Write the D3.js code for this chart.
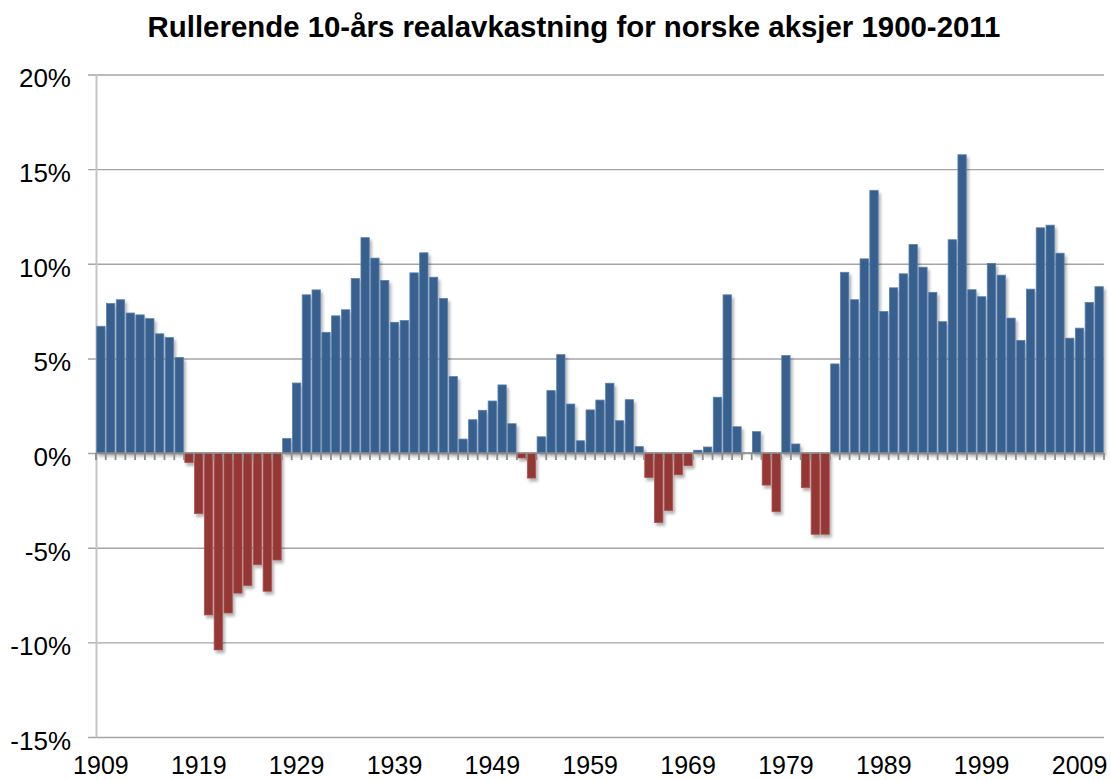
<!DOCTYPE html>
<html>
<head>
<meta charset="utf-8">
<script src="https://cdn.jsdelivr.net/npm/d3@7"></script>
<style>
  body { margin: 0; background: #fff; }
  svg { display: block; font-family: Arial, "Liberation Sans", sans-serif; }
</style>
</head>
<body>
<svg id="chart"></svg>
<script>
// data
////////////////////////////////////////////////////////////////
const title = 'Rullerende 10-års realavkastning for norske aksjer 1900-2011'
const years = d3.range(1909, 2012)
const returns = [
  6.7, 7.9, 8.1, 7.4, 7.3, 7.1, 6.3, 6.1, 5.05,
  -0.5, -3.2, -8.55, -10.4, -8.45, -7.4, -7.0, -5.9, -7.3, -5.65,
  0.77, 3.7, 8.36, 8.62, 6.38, 7.25, 7.57, 9.22, 11.38, 10.3, 9.12,
  6.91, 7.0, 9.52, 10.58, 9.29, 8.17, 4.04, 0.74, 1.76, 2.26,
  2.75, 3.6, 1.55, -0.26, -1.32, 0.86, 3.3, 5.2, 2.59, 0.65,
  2.28, 2.8, 3.69, 1.71, 2.82, 0.34, -1.29, -3.67, -3.03, -1.15,
  -0.67, 0.15, 0.32, 2.95, 8.36, 1.39, 0.0, 1.13, -1.69, -3.1,
  5.15, 0.48, -1.83, -4.29, -4.29, 4.71, 9.55, 8.1, 10.26, 13.88,
  7.48, 8.73, 9.47, 11.02, 9.82, 8.49, 6.94, 11.27, 15.76, 8.63,
  8.26, 10.02, 9.4, 7.13, 5.95, 8.66, 11.9, 12.04, 10.56, 6.07,
  6.6, 7.96, 8.79
]
const xTickYears = [1909, 1919, 1929, 1939, 1949, 1959, 1969, 1979, 1989, 1999, 2009]
const yTicks = [-15, -10, -5, 0, 5, 10, 15, 20]

const data = years.map((y, i) => ({ year: y, value: returns[i] }))

// chart
////////////////////////////////////////////////////////////////
let width = 1111
let height = 780
let plotLeft = 96
let plotRight = 1104
let plotTop = 74.5
let plotBottom = 737

let svg = d3.select('#chart')
  .attr('width', width)
  .attr('height', height)

let defs = svg.append('defs')
let shadow = defs.append('filter')
  .attr('id', 'shadow')
  .attr('x', '-50%').attr('y', '-10%')
  .attr('width', '200%').attr('height', '130%')
shadow.append('feDropShadow')
  .attr('dx', 2).attr('dy', 3)
  .attr('stdDeviation', 1.6)
  .attr('flood-color', '#000')
  .attr('flood-opacity', 0.3)

let xScale = d3.scaleBand()
  .domain(years)
  .range([plotLeft, plotRight])
  .paddingInner(0.15)
  .paddingOuter(0.075)

let yScale = d3.scaleLinear()
  .domain([-15, 20])
  .range([plotBottom, plotTop])

// gridlines
svg.append('g')
  .attr('class', 'grid')
  .attr('transform', `translate(${plotLeft - 8}, 0)`)
  .call(d3.axisRight(yScale).tickValues(yTicks).tickSize(plotRight - plotLeft + 8).tickFormat(''))
  .call(g => g.select('.domain').remove())
  .selectAll('line')
  .attr('stroke', '#a5a5a5')
  .attr('stroke-width', 1.4)

// y axis
svg.append('g')
  .attr('id', 'y-axis')
  .attr('transform', `translate(${plotLeft}, 0)`)
  .call(d3.axisLeft(yScale).tickValues(yTicks).tickSize(0).tickPadding(25)
    .tickFormat(d => d + '%'))
  .call(g => g.select('.domain')
    .attr('stroke', '#c4c4c4')
    .attr('stroke-width', 2))
  .selectAll('text')
  .attr('dy', '0.48em')
  .style('font-size', '26px')
  .style('fill', '#000')

// bars
svg.append('g')
  .attr('filter', 'url(#shadow)')
  .selectAll('rect')
  .data(data)
  .enter()
  .append('rect')
  .attr('x', d => xScale(d.year))
  .attr('width', xScale.bandwidth())
  .attr('y', d => yScale(Math.max(0, d.value)))
  .attr('height', d => Math.abs(yScale(d.value) - yScale(0)))
  .attr('fill', d => d.value >= 0 ? '#37608f' : '#953735')
  .attr('stroke', d => d.value >= 0 ? '#5c7fac' : '#a85553')
  .attr('stroke-width', 0.8)

// zero axis with category ticks
let zeroY = yScale(0)
let axisZero = svg.append('g').attr('id', 'zero-axis')
axisZero.selectAll('line.tick')
  .data(d3.range(years.length + 1))
  .enter()
  .append('line')
  .attr('class', 'tick')
  .attr('x1', i => plotLeft + i * xScale.step())
  .attr('x2', i => plotLeft + i * xScale.step())
  .attr('y1', zeroY)
  .attr('y2', zeroY + 7)
  .attr('stroke', '#8c8c8c')
  .attr('stroke-width', 1.8)
axisZero.append('line')
  .attr('x1', plotLeft)
  .attr('x2', plotRight)
  .attr('y1', zeroY)
  .attr('y2', zeroY)
  .attr('stroke', '#8c8c8c')
  .attr('stroke-width', 1.6)

// x axis labels
svg.append('g')
  .attr('id', 'x-axis')
  .attr('transform', `translate(0, ${plotBottom})`)
  .call(d3.axisBottom(xScale).tickValues(xTickYears).tickSize(0).tickPadding(19.3))
  .call(g => g.select('.domain').remove())
  .selectAll('text')
  .style('font-size', '25px')
  .style('fill', '#000')

// title
svg.append('text')
  .attr('x', 574)
  .attr('y', 37)
  .attr('text-anchor', 'middle')
  .style('font-size', '29.4px')
  .style('font-weight', 'bold')
  .text(title)
</script>
</body>
</html>
